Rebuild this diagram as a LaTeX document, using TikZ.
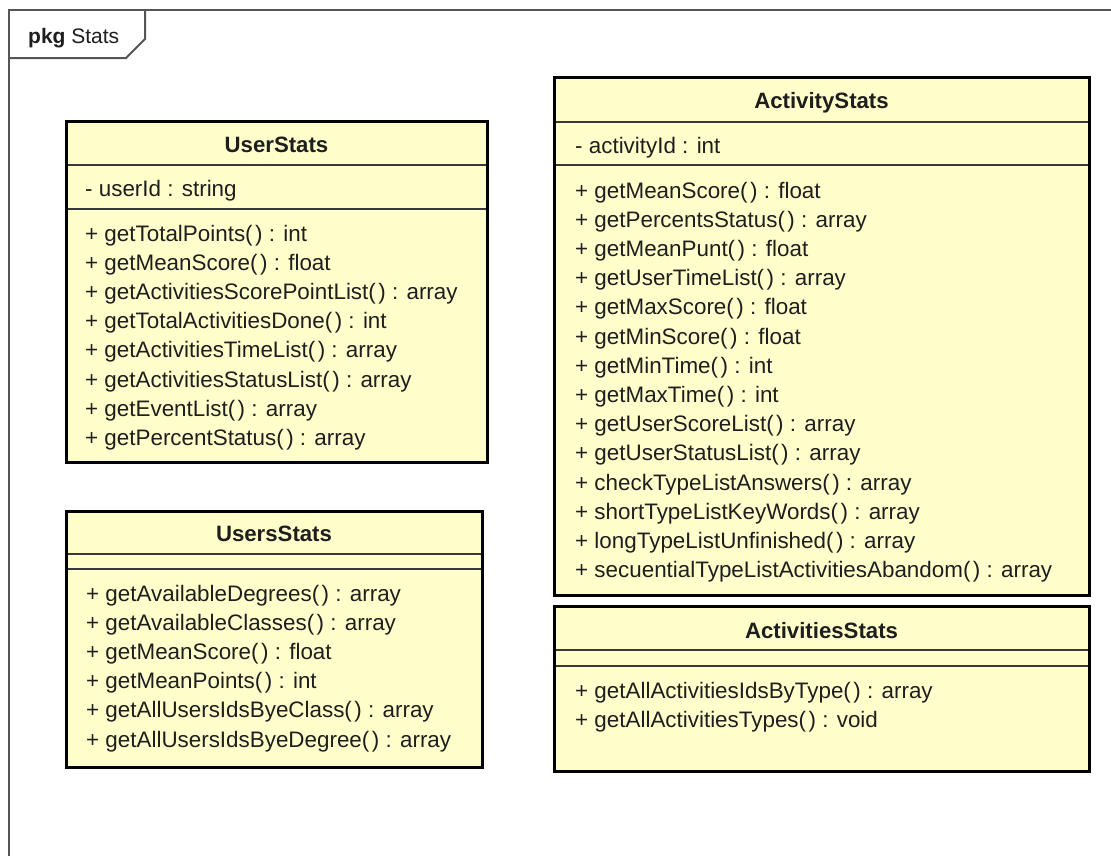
\documentclass[tikz,border=0pt]{standalone}
\usepackage{fontspec}
\setmainfont{Liberation Sans}
\definecolor{classfill}{HTML}{FFFFCC}
\definecolor{framegray}{HTML}{555555}
\definecolor{txt}{HTML}{1E1E1E}
\newcommand\parpair{(\kern2.5pt)}
\begin{document}
\begin{tikzpicture}[x=1pt,y=-1pt,
  boxfill/.style={fill=classfill, draw=none, inner sep=0pt, outer sep=0pt, anchor=north west},
  boxborder/.style={draw=black, line width=3pt},
  sepline/.style={draw=black!78, line width=1.8pt},
  classtitle/.style={font=\fontsize{22.2}{26}\selectfont\bfseries, inner sep=0pt, anchor=base, text=txt},
  member/.style={font=\fontsize{22.4}{29}\selectfont, inner sep=0pt, anchor=base west, text=txt},
  frameline/.style={draw=framegray, line width=2pt}]
\useasboundingbox (0,0) rectangle (1111,855);
\fill[white] (0,0) rectangle (1111,855);

% package frame
\draw[frameline] (9,856) -- (9,10) -- (1112,10);
\draw[frameline] (145,10) -- (145,39) -- (126,58) -- (9,58);
\node[anchor=base west, inner sep=0pt, font=\fontsize{21}{24}\selectfont, text=txt] (pkg) at (28,43) {\textbf{pkg} Stats};

% ---------- UserStats ----------
\node[boxfill, minimum width=421pt, minimum height=341pt] (us) at (66,121) {};
\draw[sepline] (us.west |- 0,165) -- (us.east |- 0,165);
\draw[sepline] (us.west |- 0,209) -- (us.east |- 0,209);
\draw[boxborder] (us.north west) rectangle (us.south east);
\node[classtitle] (us-title) at (276.5,152) {UserStats};
\node[member] (us-a1) at (85,196) {- userId : string};
\foreach [count=\i] \t in {%
  + getTotalPoints\parpair{} : int,
  + getMeanScore\parpair{} : float,
  + getActivitiesScorePointList\parpair{} : array,
  + getTotalActivitiesDone\parpair{} : int,
  + getActivitiesTimeList\parpair{} : array,
  + getActivitiesStatusList\parpair{} : array,
  + getEventList\parpair{} : array,
  + getPercentStatus\parpair{} : array}
  \node[member] (us-m\i) at (85,{241+(\i-1)*29.2}) {\t};

% ---------- UsersStats ----------
\node[boxfill, minimum width=416pt, minimum height=256pt] (uss) at (66,511) {};
\draw[sepline] (uss.west |- 0,554) -- (uss.east |- 0,554);
\draw[sepline] (uss.west |- 0,569) -- (uss.east |- 0,569);
\draw[boxborder] (uss.north west) rectangle (uss.south east);
\node[classtitle] (uss-title) at (274,541) {UsersStats};
\foreach [count=\i] \t in {%
  + getAvailableDegrees\parpair{} : array,
  + getAvailableClasses\parpair{} : array,
  + getMeanScore\parpair{} : float,
  + getMeanPoints\parpair{} : int,
  + getAllUsersIdsByeClass\parpair{} : array,
  + getAllUsersIdsByeDegree\parpair{} : array}
  \node[member] (uss-m\i) at (86,{601+(\i-1)*29.2}) {\t};

% ---------- ActivityStats ----------
\node[boxfill, minimum width=535pt, minimum height=518pt] (as) at (554,77) {};
\draw[sepline] (as.west |- 0,122) -- (as.east |- 0,122);
\draw[sepline] (as.west |- 0,165) -- (as.east |- 0,165);
\draw[boxborder] (as.north west) rectangle (as.south east);
\node[classtitle] (as-title) at (821.5,108) {ActivityStats};
\node[member] (as-a1) at (575,153) {- activityId : int};
\foreach [count=\i] \t in {%
  + getMeanScore\parpair{} : float,
  + getPercentsStatus\parpair{} : array,
  + getMeanPunt\parpair{} : float,
  + getUserTimeList\parpair{} : array,
  + getMaxScore\parpair{} : float,
  + getMinScore\parpair{} : float,
  + getMinTime\parpair{} : int,
  + getMaxTime\parpair{} : int,
  + getUserScoreList\parpair{} : array,
  + getUserStatusList\parpair{} : array,
  + checkTypeListAnswers\parpair{} : array,
  + shortTypeListKeyWords\parpair{} : array,
  + longTypeListUnfinished\parpair{} : array,
  + secuentialTypeListActivitiesAbandom\parpair{} : array}
  \node[member] (as-m\i) at (575,{198+(\i-1)*29.2}) {\t};

% ---------- ActivitiesStats ----------
\node[boxfill, minimum width=535pt, minimum height=165pt] (ass) at (554,606) {};
\draw[sepline] (ass.west |- 0,650) -- (ass.east |- 0,650);
\draw[sepline] (ass.west |- 0,666) -- (ass.east |- 0,666);
\draw[boxborder] (ass.north west) rectangle (ass.south east);
\node[classtitle] (ass-title) at (821.5,638) {ActivitiesStats};
\foreach [count=\i] \t in {%
  + getAllActivitiesIdsByType\parpair{} : array,
  + getAllActivitiesTypes\parpair{} : void}
  \node[member] (ass-m\i) at (575,{698+(\i-1)*29.2}) {\t};
\end{tikzpicture}
\end{document}
